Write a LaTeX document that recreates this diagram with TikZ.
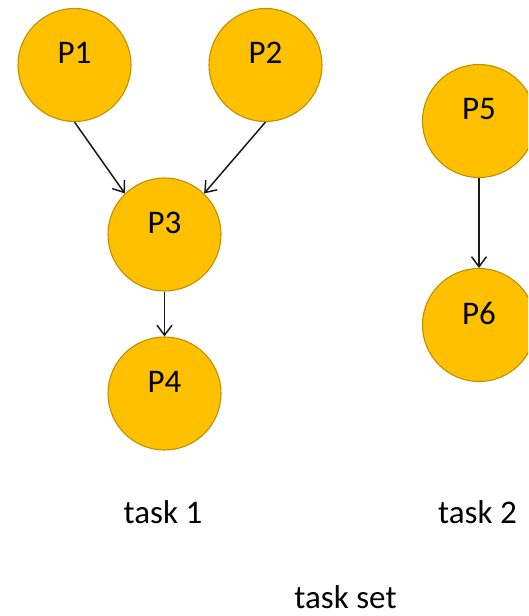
\documentclass[tikz,border=0pt]{standalone}
\usepackage{fontspec}
\setmainfont{Carlito}
\usetikzlibrary{arrows.meta}
\definecolor{gold}{HTML}{FFC000}
\definecolor{golddark}{HTML}{BF9000}
\definecolor{ink}{HTML}{1A1A1A}
\tikzset{
  proc/.style={circle, fill=gold, draw=golddark, line width=1.1pt, minimum size=113pt, inner sep=0pt, font=\fontsize{33}{36}\selectfont, text=black},
  tasklabel/.style={font=\fontsize{33}{36}\selectfont, text=black, inner sep=0pt},
  link/.style={draw=ink, line width=1.5pt, -{Straight Barb[length=10pt,width=15pt,line width=1.5pt]}}
}
\begin{document}
\begin{tikzpicture}[x=1pt,y=-1pt]
\fill[white] (0,0) rectangle (528,616);
\useasboundingbox (0,0) rectangle (528,616);
\begin{scope}
\clip (0,0) rectangle (528,616);
\node[proc] (P1) at (74.5,65) {\raisebox{24pt}{P1}};
\node[proc] (P2) at (265.5,65) {\raisebox{24pt}{P2}};
\node[proc] (P3) at (164.5,234.5) {\raisebox{24pt}{P3}};
\node[proc] (P4) at (164.5,393.5) {\raisebox{24pt}{P4}};
\node[proc] (P5) at (479,121) {\raisebox{24pt}{P5}};
\node[proc] (P6) at (479,325) {\raisebox{24pt}{P6}};
\draw[link] (P1.south) -- (P3.134);
\draw[link] (P2.south) -- (P3.46);
\draw[link] (P3.south) -- (P4.north);
\draw[link] (P5.south) -- (P6.north);
\end{scope}
\node[tasklabel, anchor=base] (t1) at (163,523) {task 1};
\node[tasklabel, anchor=base] (t2) at (477.5,523) {task 2};
\node[tasklabel, anchor=base] (ts) at (345.5,608) {task set};
\end{tikzpicture}
\end{document}
